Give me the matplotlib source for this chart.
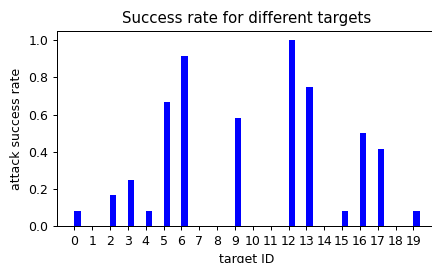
import matplotlib
matplotlib.use("Agg")
import matplotlib.pyplot as plt
import numpy as np

target_ids = list(range(20))
success_rate = [1/12, 0, 2/12, 3/12, 1/12, 8/12, 11/12, 0, 0, 7/12,
                0, 0, 1.0, 9/12, 0, 1/12, 6/12, 5/12, 0, 1/12]

DPI = 90
fig = plt.figure(figsize=(432 / DPI, 263 / DPI), dpi=DPI)
ax = fig.add_axes([57 / 432, 1 - 226 / 263, 380 / 432, (226 - 31) / 263])
ax.bar(np.arange(len(target_ids)), success_rate, width=0.35, align="edge", color="blue")
ax.set_xticks(target_ids)
ax.set_xticklabels([str(t) for t in target_ids])
ax.set_xlabel("target ID")
ax.set_ylabel("attack success rate")
ax.set_title("Success rate for different targets")
fig.savefig("out.png", dpi=DPI)
